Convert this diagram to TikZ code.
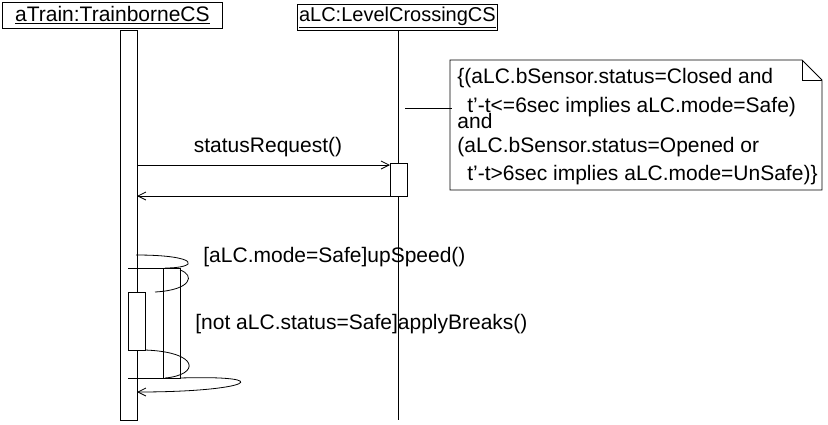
\documentclass[tikz,border=0pt]{standalone}
\usepackage{fontspec}
\setmainfont{Liberation Sans}
\usetikzlibrary{arrows.meta}
\begin{document}
\begin{tikzpicture}[x=1pt,y=-1pt,line width=0.8pt,
  txt/.style={font=\fontsize{21}{24}\selectfont,inner sep=0pt},
  msg/.style={-{Straight Barb[length=8pt,width=8pt]}},
  hdr/.style={draw,txt,minimum height=26pt,anchor=north west},
  nl/.style={txt,anchor=base west}]
\useasboundingbox[fill=white] (0,0) rectangle (828,424);
\node[hdr,minimum width=220pt] (tr) at (2,2) {\underline{aTrain:TrainborneCS}};
\node[hdr,minimum width=200pt,font=\fontsize{20}{24}\selectfont] (lc) at (297,4) {\underline{aLC:LevelCrossingCS}};
% lifelines
\draw (398,30) coordinate (lct) -- (398,420) coordinate (lcb);
\draw (120,30) rectangle (137,420);
\draw[fill=white] (390,163) rectangle (407,196);
\coordinate (a1) at (137,165); \coordinate (b1) at (390,165);
\coordinate (a2) at (137,196); \coordinate (b2) at (390,196);
\draw[msg] (a1) -- (b1);
\draw[msg] (b2) -- (a2);
\node[txt] (sr) at (268,147) {statusRequest()};
% note
\draw (450,60) -- (802,60) -- (822,80) -- (822,190) -- (450,190) -- cycle;
\draw (802,60) -- (802,80) -- (822,80);
\node[nl] (t1) at (457,83) {\{(aLC.bSensor.status=Closed and};
\node[nl] (t2) at (467,112) {t'-t<=6sec implies aLC.mode=Safe)};
\node[nl] (t3) at (457,128) {and};
\node[nl] (t4) at (457,152) {(aLC.bSensor.status=Opened or};
\node[nl] (t5) at (467,180) {t'-t>6sec implies aLC.mode=UnSafe)\}};
\coordinate (n1) at (405,108); \coordinate (n2) at (452,108);
\draw (n1) -- (n2);
% loops
\draw (128,268) -- (180,268) -- (180,378) -- (128,378);
\draw (163,268) -- (163,378);
\draw[fill=white] (128,292) rectangle (145,350);
\draw (136,255) .. controls (200,255) and (200,268) .. (165,268);
\draw (180,270) .. controls (195,275) and (192,290) .. (155,292);
\draw (145,350) .. controls (200,352) and (200,375) .. (165,378);
\draw[msg] (180,378) .. controls (280,375) and (250,392) .. (137,392);
\node[txt,anchor=west] (l1) at (203,257) {[aLC.mode=Safe]upSpeed()};
\node[txt,anchor=west] (l2) at (195,324) {[not aLC.status=Safe]applyBreaks()};
\end{tikzpicture}
\end{document}
